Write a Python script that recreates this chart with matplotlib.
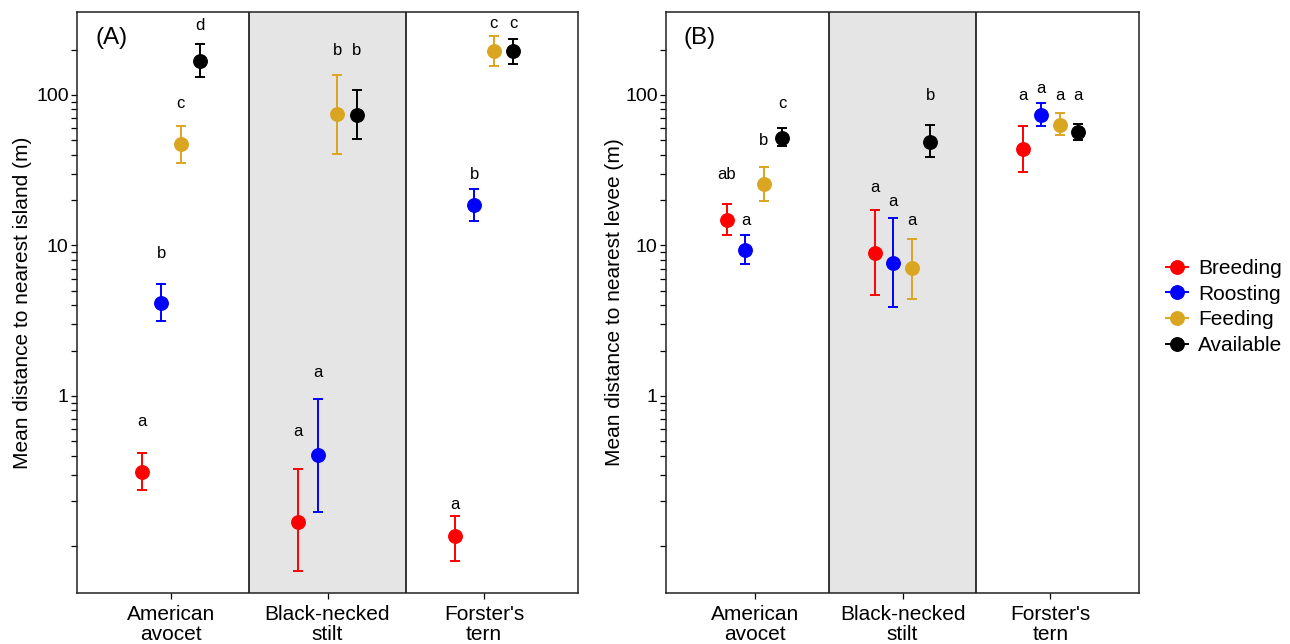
import numpy as np
import matplotlib.pyplot as plt
from matplotlib.lines import Line2D
from matplotlib.ticker import FixedLocator, NullFormatter

plt.rcParams['font.family'] = ['Liberation Sans', 'DejaVu Sans']

species = ["American\navocet", "Black-necked\nstilt", "Forster's\ntern"]
groups = ["Breeding", "Roosting", "Feeding", "Available"]
colors = ["#FF0000", "#0000FF", "#DAA520", "#000000"]

# (A) mean distance to nearest island, one row per group, one column per species
island_mean = [[0.313, 0.146, 0.118],
               [4.13, 0.403, 18.5],
               [46.8, 74.5, 195],
               [167, 73.3, 194]]
island_low = [[0.236, 0.069, 0.0795],
              [3.15, 0.168, 14.6],
              [35.0, 40.7, 155],
              [131, 50.8, 160]]
island_high = [[0.416, 0.326, 0.159],
               [5.52, 0.955, 23.6],
               [62.5, 136, 247],
               [219, 107, 235]]
island_letters = [["a", "a", "a"],
                  ["b", "a", "b"],
                  ["c", "b", "c"],
                  ["d", "b", "c"]]
island_letter_y = [[0.672, 0.577, 0.191],
                   [8.78, 1.44, 29.6],
                   [87.5, 197, 299],
                   [289, 197, 299]]

# (B) mean distance to nearest levee
levee_mean = [[14.7, 8.96, 43.4],
              [9.38, 7.69, 73.1],
              [25.5, 7.05, 62.9],
              [52.0, 48.9, 56.2]]
levee_low = [[11.7, 4.69, 30.5],
             [7.54, 3.92, 61.7],
             [19.8, 4.41, 53.7],
             [45.8, 38.7, 50.1]]
levee_high = [[18.9, 17.1, 62.4],
              [11.7, 15.2, 88.7],
              [33.1, 11.1, 75.5],
              [60.6, 63.2, 64.1]]
levee_letters = [["ab", "a", "a"],
                 ["a", "a", "a"],
                 ["b", "a", "a"],
                 ["c", "b", "a"]]
levee_letter_y = [[29.4, 24.4, 99.3],
                  [14.6, 19.5, 110],
                  [49.5, 14.6, 99.3],
                  [88.1, 98.9, 99.3]]

W, H = 1290, 644
fig = plt.figure(figsize=(W / 100, H / 100), dpi=100)
axA = fig.add_axes([77 / W, (H - 593) / H, 501 / W, 581 / H])
axB = fig.add_axes([666 / W, (H - 593) / H, 473 / W, 581 / H])

offsets = np.linspace(-0.1875, 0.1875, 4)
x = np.arange(1, 4)
minor_ticks = [k * 10.0 ** d for d in range(-1, 3) for k in range(1, 10)
               if k != 1 or d == -1]
minor_ticks = [t for t in minor_ticks if t <= 200]


def draw_panel(ax, mean, low, high, letters, letter_y, ylabel, tag):
    ax.axvspan(1.5, 2.5, color='#E5E5E5', zorder=0, lw=0)
    ax.axvline(1.5, color='black', lw=1.1, zorder=1)
    ax.axvline(2.5, color='black', lw=1.1, zorder=1)
    for i, g in enumerate(groups):
        m = np.array(mean[i])
        lo = np.array(low[i])
        hi = np.array(high[i])
        ax.errorbar(x + offsets[i], m, yerr=[m - lo, hi - m], fmt='o',
                    color=colors[i], ms=9.7, capsize=3.3, elinewidth=1.4,
                    capthick=1.4, zorder=3)
        for j in range(3):
            ax.text(x[j] + offsets[i], letter_y[i][j], letters[i][j],
                    ha='center', va='center', fontsize=12, color='black')
    ax.set_yscale('log')
    ax.set_ylim(0.049, 355)
    ax.set_xlim(0.4, 3.6)
    ax.yaxis.set_major_locator(FixedLocator([1, 10, 100]))
    ax.set_yticklabels(["1", "10", "100"])
    ax.yaxis.set_minor_locator(FixedLocator(minor_ticks))
    ax.yaxis.set_minor_formatter(NullFormatter())
    ax.set_xticks(x)
    ax.set_xticklabels(species, fontsize=15, linespacing=1.05)
    ax.tick_params(axis='y', which='major', labelsize=14, length=4, width=0.9, pad=2)
    ax.tick_params(axis='y', which='minor', length=4, width=0.9)
    ax.tick_params(axis='x', length=4, width=0.9, pad=4.5)
    for s in ax.spines.values():
        s.set_linewidth(1.1)
        s.set_color('#222222')
    ax.set_ylabel(ylabel, fontsize=15)
    ax.yaxis.set_label_coords(-0.089, 0.5)
    ax.text(0.036, 0.955, tag, transform=ax.transAxes, fontsize=17.5,
            ha='left', va='center')


draw_panel(axA, island_mean, island_low, island_high, island_letters,
           island_letter_y, "Mean distance to nearest island (m)", "(A)")
draw_panel(axB, levee_mean, levee_low, levee_high, levee_letters,
           levee_letter_y, "Mean distance to nearest levee (m)", "(B)")

handles = [Line2D([0], [0], color=c, marker='o', ms=9.7, lw=1.4) for c in colors]
fig.legend(handles, groups, loc='center left', bbox_to_anchor=(1166 / W, 1 - 307 / H),
           frameon=False, fontsize=15, handlelength=1.05, handletextpad=0.5,
           labelspacing=0.32, borderpad=0, borderaxespad=0)

plt.savefig('out.png', dpi=100)
